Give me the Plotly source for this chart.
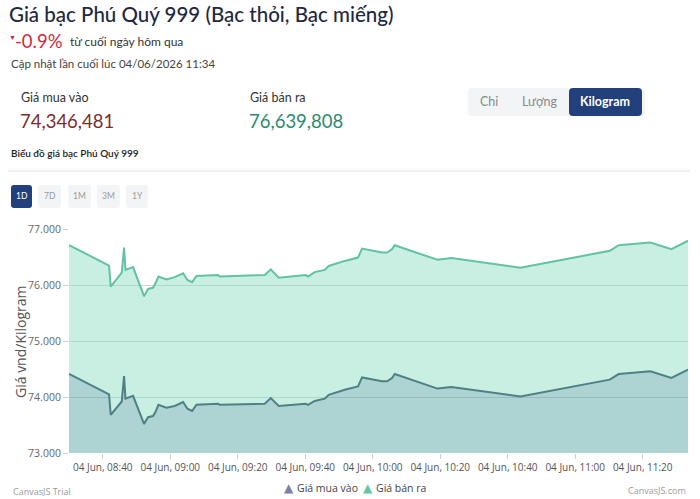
import plotly.graph_objects as go

# ---------------- data ----------------
times = [
    "08:30:00", "08:41:52", "08:42:22", "08:45:15", "08:45:38", "08:46:19", "08:46:44",
    "08:48:59", "08:52:14", "08:53:25", "08:54:54", "08:55:37", "08:56:30", "08:58:52",
    "09:01:20", "09:03:48", "09:05:06", "09:06:28", "09:07:46", "09:14:10", "09:14:40",
    "09:28:00", "09:29:47", "09:32:09", "09:40:09", "09:40:50", "09:42:48", "09:45:47",
    "09:46:58", "09:51:42", "09:55:38", "09:56:50", "10:02:45", "10:04:14", "10:05:43",
    "10:06:31", "10:19:10", "10:23:19", "10:43:46", "11:10:13", "11:12:53", "11:22:17",
    "11:28:30", "11:33:25",
]
gia_ban_ra = [
    76.714, 76.345, 75.97, 76.21, 76.22, 76.67, 76.27,
    76.32, 75.80, 75.93, 75.95, 76.03, 76.15, 76.10,
    76.14, 76.21, 76.09, 76.05, 76.16, 76.18, 76.15,
    76.18, 76.28, 76.13, 76.18, 76.15, 76.23, 76.27,
    76.34, 76.43, 76.49, 76.65, 76.58, 76.58, 76.64,
    76.71, 76.45, 76.48, 76.31, 76.61, 76.71, 76.76,
    76.64, 76.79,
]
gia_mua_vao = [
    74.414, 74.045, 73.68, 73.91, 73.92, 74.375, 73.97,
    74.02, 73.52, 73.64, 73.66, 73.73, 73.86, 73.81,
    73.84, 73.91, 73.79, 73.75, 73.86, 73.88, 73.86,
    73.88, 73.98, 73.84, 73.88, 73.86, 73.93, 73.97,
    74.04, 74.13, 74.19, 74.35, 74.28, 74.28, 74.34,
    74.41, 74.15, 74.18, 74.01, 74.31, 74.41, 74.46,
    74.34, 74.49,
]
date = "2026-06-04"
x_vals = [f"{date} {t}" for t in times]
y_ticks = [73, 74, 75, 76, 77]
y_ticktext = ["73.000", "74.000", "75.000", "76.000", "77.000"]

buy_label = "Giá mua vào"
sell_label = "Giá bán ra"
buy_value = "74,346,481"
sell_value = "76,639,808"
units = ["Chỉ", "Lượng", "Kilogram"]
periods = ["1D", "7D", "1M", "3M", "1Y"]

# ---------------- geometry helpers ----------------
W, H = 700, 499
L, R, T, B = 69, 12, 229, 46
PW, PH = W - L - R, H - T - B


def X(px):
    return (px - L) / PW


def Y(py):
    return (H - B - py) / PH


def rrect(x0, y0, x1, y1, r=4):
    # rounded rectangle path in paper coordinates, given pixel corners
    rx, ry = r / PW, r / PH
    a, b, c, d = X(x0), X(x1), Y(y1), Y(y0)  # left, right, bottom, top
    return (f"M{a+rx},{c} L{b-rx},{c} Q{b},{c} {b},{c+ry} L{b},{d-ry} Q{b},{d} {b-rx},{d} "
            f"L{a+rx},{d} Q{a},{d} {a},{d-ry} L{a},{c+ry} Q{a},{c} {a+rx},{c} Z")


FONT_H = "Lato"
FONT_C = "Open Sans"
NAVY = "#22407c"
BUY_MARK = "#7c80a6"
SELL_MARK = "#5fcaa2"

fig = go.Figure()
fig.add_trace(go.Scatter(
    x=x_vals, y=gia_mua_vao, mode="lines", name=buy_label, showlegend=False,
    line=dict(color="#4f8084", width=2), fill="tozeroy", fillcolor="rgba(93,167,167,0.5)",
    hoverinfo="x+y",
))
fig.add_trace(go.Scatter(
    x=x_vals, y=gia_ban_ra, mode="lines", name=sell_label, showlegend=False,
    line=dict(color="#62c3a0", width=2), fill="tonexty", fillcolor="rgba(145,223,195,0.5)",
    hoverinfo="x+y",
))

ann = []


def text(px, py, s, size, color, family=FONT_H, xanchor="left", weight=None):
    f = dict(size=size, color=color, family=family)
    if weight:
        f["weight"] = weight
    ann.append(dict(x=X(px), y=Y(py), xref="paper", yref="paper", text=s, showarrow=False,
                    xanchor=xanchor, yanchor="middle", font=f))


text(7, 14, "Giá bạc Phú Quý 999 (Bạc thỏi, Bạc miếng)", 20.5, "#1f2840", weight=500)
text(7, 37, "▼", 7, "#d3283c")
text(13, 41, "-0.9%", 18.5, "#d3283c")
text(68, 41, "từ cuối ngày hôm qua", 12, "#333333")
text(9, 63, "Cập nhật lần cuối lúc 04/06/2026 11:34", 11.5, "#444444")
text(19, 97, buy_label, 12.5, "#333333")
text(18, 121, buy_value, 18.5, "#7b2d32")
text(248, 97, sell_label, 12.5, "#333333")
text(247, 121, sell_value, 18.5, "#2c8a6e")
text(9, 153, "Biểu đồ giá bạc Phú Quý 999", 10, "#222222", weight=600)
text(489, 102, units[0], 12.5, "#8a8a8a", xanchor="center")
text(540, 102, units[1], 12.5, "#8a8a8a", xanchor="center")
text(605, 102, units[2], 12.5, "#ffffff", xanchor="center", weight=700)
text(11, 491, "CanvasJS Trial", 9, "#9a9a9a", family=FONT_C)
text(688, 490, "CanvasJS.com", 9, "#9a9a9a", family=FONT_C, xanchor="right")
text(20, 341, "Giá vnd/Kilogram", 14, "#555555", family=FONT_C, xanchor="center")
ann[-1]["textangle"] = -90
# legend (CanvasJS style, triangle markers)
text(289, 488, "▲", 12, BUY_MARK, family="DejaVu Sans", xanchor="center")
text(295, 488, buy_label, 10.5, "#444444", family=FONT_C)
text(368, 488, "▲", 12, SELL_MARK, family="DejaVu Sans", xanchor="center")
text(374, 488, sell_label, 10.5, "#444444", family=FONT_C)

shapes = [
    dict(type="path", path=rrect(468, 88, 645, 116, 4), xref="paper", yref="paper",
         fillcolor="#f3f4f6", line=dict(width=0), layer="below"),
    dict(type="path", path=rrect(569, 88, 642, 116, 4), xref="paper", yref="paper",
         fillcolor=NAVY, line=dict(width=0), layer="below"),
    dict(type="line", x0=X(8), x1=X(690), y0=Y(171), y1=Y(171), xref="paper", yref="paper",
         line=dict(color="#e2e2e2", width=1)),
]
btn_x = [(11, 32), (38, 61), (68, 91), (97, 120), (126, 148)]
for i, (p, (a, b)) in enumerate(zip(periods, btn_x)):
    shapes.append(dict(type="path", path=rrect(a, 185, b, 208, 3), xref="paper", yref="paper",
                       fillcolor=NAVY if i == 0 else "#f3f4f6", line=dict(width=0), layer="below"))
    text((a + b) / 2, 196.5, p, 8.5, "#ffffff" if i == 0 else "#9a9a9a", xanchor="center")

fig.update_layout(
    width=W, height=H,
    margin=dict(l=L, r=R, t=T, b=B, pad=0, autoexpand=False),
    paper_bgcolor="white", plot_bgcolor="white",
    annotations=ann, shapes=shapes,
    showlegend=False,
    hovermode="x unified",
)
fig.update_xaxes(
    type="date", range=[x_vals[0], x_vals[-1]],
    tick0=f"{date} 08:40:00", dtick=20 * 60 * 1000, tickformat="%d %b, %H:%M",
    tickangle=0,
    showgrid=False, ticks="outside", ticklen=5, tickcolor="#cfcfcf",
    tickfont=dict(family=FONT_C, size=10, color="#555555"),
    showline=False, zeroline=False,
)
fig.update_yaxes(
    range=[73, 77], tickvals=y_ticks, ticktext=y_ticktext,
    showgrid=True, gridcolor="rgb(205,210,210)", gridwidth=1,
    ticks="outside", ticklen=5, tickcolor="#cfcfcf",
    tickfont=dict(family=FONT_C, size=10.5, color="#666666"),
    showline=False, zeroline=False,
)

fig.write_html("out.html")
